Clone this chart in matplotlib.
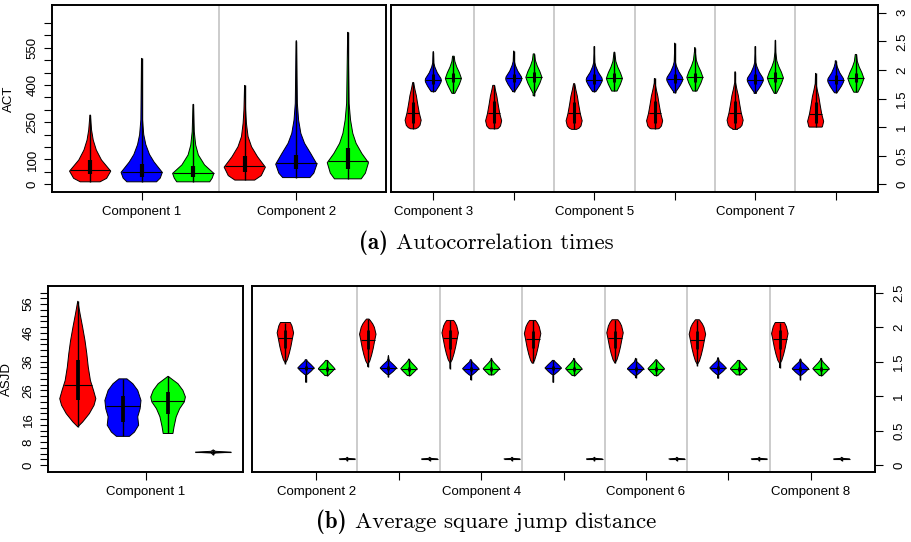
import matplotlib

matplotlib.use("Agg")
import matplotlib.pyplot as plt
import numpy as np

plt.rcParams["font.family"] = ["Liberation Sans", "DejaVu Sans"]

RED, BLUE, GREEN, DARK = "#ff0000", "#0000ff", "#00ff00", "#383838"

# ---- (a) ACT, components 1-2: outline of each violin (value, relative half width)
act12_colors = [RED, BLUE, GREEN, RED, BLUE, GREEN]
act12_ys = [
    [10, 24, 53, 98, 138, 178, 218, 279],
    [10, 25, 48, 90, 120, 160, 200, 260, 507],
    [10, 25, 44, 78, 118, 158, 212, 322],
    [17, 35, 69, 111, 151, 192, 246, 300, 398],
    [27, 45, 81, 124, 165, 205, 259, 326, 578],
    [22, 45, 87, 124, 165, 205, 259, 326, 612],
]
act12_ws = [
    [0.48, 0.80, 1.0, 0.55, 0.30, 0.15, 0.07, 0.01],
    [0.72, 0.90, 1.0, 0.60, 0.38, 0.20, 0.10, 0.04, 0.01],
    [0.80, 0.92, 1.0, 0.55, 0.25, 0.12, 0.05, 0.01],
    [0.48, 0.80, 1.0, 0.62, 0.33, 0.16, 0.08, 0.04, 0.01],
    [0.66, 0.85, 1.0, 0.70, 0.40, 0.22, 0.11, 0.05, 0.01],
    [0.65, 0.85, 1.0, 0.68, 0.40, 0.24, 0.13, 0.06, 0.01],
]
act12_q1 = [42, 30, 28, 48, 60, 63]
act12_med = [57, 51, 44, 75, 84, 92]
act12_q3 = [98, 83, 75, 115, 118, 147]
act12_labels = ["Component 1", "Component 2"]

# ---- (a) ACT, components 3-8: summary per violin, shape from a template
act_rest_labels = ["Component 3", "", "Component 5", "", "Component 7", ""]
act_red_min = [0.97, 0.97, 0.96, 0.97, 0.96, 1.00]
act_red_q1 = [1.08, 1.08, 1.08, 1.08, 1.08, 1.08]
act_red_med = [1.25, 1.24, 1.24, 1.24, 1.25, 1.23]
act_red_q3 = [1.44, 1.46, 1.44, 1.46, 1.45, 1.44]
act_red_max = [1.78, 1.73, 1.76, 1.85, 1.97, 1.94]
act_blue_min = [1.62, 1.62, 1.62, 1.60, 1.59, 1.60]
act_blue_q1 = [1.75, 1.78, 1.76, 1.77, 1.76, 1.76]
act_blue_med = [1.82, 1.85, 1.83, 1.84, 1.83, 1.82]
act_blue_q3 = [1.92, 1.93, 1.93, 1.93, 1.92, 1.91]
act_blue_max = [2.32, 2.33, 2.41, 2.47, 2.41, 2.16]
act_green_min = [1.59, 1.55, 1.63, 1.63, 1.59, 1.61]
act_green_q1 = [1.78, 1.78, 1.78, 1.79, 1.78, 1.78]
act_green_med = [1.85, 1.87, 1.85, 1.87, 1.86, 1.85]
act_green_q3 = [1.94, 1.96, 1.94, 1.95, 1.96, 1.94]
act_green_max = [2.24, 2.28, 2.31, 2.39, 2.52, 2.27]

# shape templates: offset from median, relative half width
act_red_off = [-0.28, -0.26, -0.22, -0.13, -0.05, 0.0, 0.15, 0.30, 0.41, 0.53, 0.75]
act_red_w = [0.30, 0.60, 0.85, 1.0, 0.85, 0.76, 0.57, 0.40, 0.22, 0.05, 0.0]
act_blue_off = [-0.22, -0.17, -0.10, -0.03, 0.0, 0.03, 0.13, 0.23, 0.30, 0.50, 0.70]
act_blue_w = [0.15, 0.40, 0.72, 0.97, 1.0, 0.95, 0.50, 0.20, 0.07, 0.02, 0.0]
act_green_off = [-0.28, -0.20, -0.10, 0.0, 0.10, 0.20, 0.30, 0.45, 0.70]
act_green_w = [0.10, 0.40, 0.75, 1.0, 0.75, 0.42, 0.18, 0.05, 0.0]

# ---- (b) ASJD, component 1
asjd1_colors = [RED, BLUE, GREEN, DARK]
asjd1_ys = [
    [13.3, 15, 17.9, 20.8, 23.1, 26, 29.4, 34.1, 38.7, 43.3, 47.9, 52.5, 57.1],
    [10.0, 11.5, 13.9, 16.8, 19.6, 22.5, 26.0, 28.3, 30.0],
    [11.0, 13.3, 16.8, 19.6, 22.0, 23.7, 26.0, 28.3, 30.9],
    [3.6, 4.2, 4.5, 4.8, 5.3],
]
asjd1_ws = [
    [0.0, 0.27, 0.64, 0.90, 1.0, 0.87, 0.70, 0.58, 0.50, 0.40, 0.27, 0.13, 0.0],
    [0.36, 0.64, 0.87, 0.82, 0.95, 1.0, 0.82, 0.55, 0.22],
    [0.27, 0.33, 0.45, 0.64, 0.90, 0.96, 0.82, 0.55, 0.0],
    [0.0, 0.12, 1.0, 0.12, 0.0],
]
asjd1_q1 = [22.5, 15.0, 17.7, 4.45]
asjd1_med = [27.9, 20.4, 22.2, 4.5]
asjd1_q3 = [36.4, 23.9, 25.6, 4.55]

# ---- (b) ASJD, components 2-8
asjd_rest_labels = ["Component 2", "", "Component 4", "", "Component 6", "", "Component 8"]
asjd_red_min = [1.47, 1.43, 1.40, 1.48, 1.48, 1.44, 1.41]
asjd_red_q1 = [1.70, 1.68, 1.69, 1.70, 1.70, 1.68, 1.68]
asjd_red_med = [1.84, 1.82, 1.84, 1.83, 1.84, 1.82, 1.83]
asjd_red_q3 = [1.96, 1.96, 1.96, 1.95, 1.95, 1.95, 1.96]
asjd_red_max = [2.07, 2.12, 2.10, 2.10, 2.11, 2.11, 2.07]
asjd_blue_min = [1.20, 1.28, 1.24, 1.20, 1.27, 1.26, 1.24]
asjd_blue_q1 = [1.38, 1.38, 1.37, 1.38, 1.37, 1.38, 1.37]
asjd_blue_med = [1.41, 1.41, 1.40, 1.41, 1.40, 1.41, 1.40]
asjd_blue_q3 = [1.44, 1.44, 1.43, 1.44, 1.43, 1.44, 1.43]
asjd_blue_max = [1.53, 1.59, 1.53, 1.52, 1.55, 1.56, 1.54]
asjd_green_min = [1.30, 1.30, 1.31, 1.30, 1.30, 1.31, 1.30]
asjd_green_q1 = [1.37, 1.37, 1.37, 1.37, 1.37, 1.37, 1.37]
asjd_green_med = [1.40, 1.40, 1.40, 1.40, 1.40, 1.40, 1.40]
asjd_green_q3 = [1.43, 1.43, 1.43, 1.43, 1.43, 1.43, 1.43]
asjd_green_max = [1.52, 1.54, 1.55, 1.55, 1.53, 1.52, 1.55]
asjd_dark_med = [0.09, 0.09, 0.09, 0.09, 0.09, 0.09, 0.09]

asjd_red_off = [-0.36, -0.31, -0.22, -0.12, 0.0, 0.08, 0.18, 0.23, 0.28, 0.32]
asjd_red_w = [0.0, 0.24, 0.47, 0.67, 0.86, 1.0, 0.80, 0.60, 0.30, 0.0]
asjd_blue_off = [-0.25, -0.10, -0.09, -0.05, 0.0, 0.05, 0.10, 0.14, 0.20]
asjd_blue_w = [0.0, 0.03, 0.20, 0.60, 1.0, 0.60, 0.15, 0.03, 0.0]
asjd_green_off = [-0.12, -0.08, -0.04, 0.0, 0.04, 0.09, 0.13, 0.16]
asjd_green_w = [0.05, 0.35, 0.70, 1.0, 0.70, 0.30, 0.05, 0.0]
asjd_dark_off = [-0.025, -0.008, 0.0, 0.008, 0.025]
asjd_dark_w = [0.0, 0.12, 1.0, 0.12, 0.0]

captions = [("(a)", "Autocorrelation times"), ("(b)", "Average square jump distance")]


def template_profile(offsets, widths, vmin, med, vmax):
    ys = med + np.asarray(offsets, float)
    inside = (ys > vmin) & (ys < vmax)
    y_all = np.concatenate([[vmin], ys[inside], [vmax]])
    w_all = np.interp(y_all, ys, widths)
    return y_all, w_all


def draw_violin(ax, x, ys, ws, q1, med, q3, color, box_lw):
    ys = np.asarray(ys, float)
    ws = np.asarray(ws, float) * 0.4
    xs = np.concatenate([x - ws, (x + ws)[::-1]])
    yy = np.concatenate([ys, ys[::-1]])
    ax.fill(xs, yy, facecolor=color, edgecolor="black", lw=0.7, zorder=2)
    ax.vlines(x, ys[0], ys[-1], color="black", lw=1.0, zorder=3)
    ax.vlines(x, q1, q3, color="black", lw=box_lw, zorder=4)
    wm = np.interp(med, ys, ws)
    ax.hlines(med, x - wm, x + wm, color="black", lw=0.8, zorder=4)


def style_axes(ax, right=False):
    for sp in ax.spines.values():
        sp.set_linewidth(1.4)
    ax.tick_params(length=6, width=0.8, labelsize=9.5, pad=3.5)
    ax.tick_params(axis="x", pad=4.0)
    if right:
        ax.yaxis.tick_right()
        ax.tick_params(axis="y", pad=7)
    ax.tick_params(axis="y", labelrotation=90)
    for lbl in ax.get_yticklabels():
        lbl.set_verticalalignment("center")


def fmt(v):
    return f"{v:g}"


fig = plt.figure(figsize=(9.11, 5.42), dpi=100)
W, H = 911, 542


def add_axes(x0, y0, x1, y1):
    return fig.add_axes([x0 / W, 1 - y1 / H, (x1 - x0) / W, (y1 - y0) / H])


# ---------- (a) left
ax = add_axes(52, 5, 386, 192)
for i in range(6):
    draw_violin(ax, i + 1, act12_ys[i], act12_ws[i], act12_q1[i], act12_med[i],
                act12_q3[i], act12_colors[i], box_lw=3.0)
ax.axvline(3.5, color="#c8c8c8", lw=1.3, zorder=1)
ax.set_xlim(0.26, 6.74)
ax.set_ylim(-31, 722)
ax.set_xticks([2, 5], act12_labels)
yt = np.arange(0, 651, 50)
ax.set_yticks(yt, [fmt(v) if v in (0, 100, 250, 400, 550) else "" for v in yt])
ax.set_ylabel("ACT", fontsize=9.5)
ax.yaxis.set_label_coords(-0.11, 0.5)
style_axes(ax)

# ---------- (a) right
ax = add_axes(391, 5, 878, 192)
for g in range(6):
    groups = [
        (RED, act_red_off, act_red_w, act_red_min, act_red_q1, act_red_med, act_red_q3, act_red_max),
        (BLUE, act_blue_off, act_blue_w, act_blue_min, act_blue_q1, act_blue_med, act_blue_q3, act_blue_max),
        (GREEN, act_green_off, act_green_w, act_green_min, act_green_q1, act_green_med, act_green_q3, act_green_max),
    ]
    for k, (col, off, w, vmin, q1, med, q3, vmax) in enumerate(groups):
        ys, ws = template_profile(off, w, vmin[g], med[g], vmax[g])
        draw_violin(ax, 4 * g + k + 1, ys, ws, q1[g], med[g], q3[g], col, box_lw=2.2)
    if g > 0:
        ax.axvline(4 * g, color="#c8c8c8", lw=1.3, zorder=1)
ax.set_xlim(-0.1, 24.1)
ax.set_ylim(-0.135, 3.135)
ax.set_xticks([4 * g + 2 for g in range(6)], act_rest_labels)
yt = np.arange(0, 3.01, 0.5)
ax.set_yticks(yt, [fmt(v) for v in yt])
style_axes(ax, right=True)

# ---------- (b) left
ax = add_axes(48, 286, 243, 472)
for i in range(4):
    draw_violin(ax, i + 1, asjd1_ys[i], asjd1_ws[i], asjd1_q1[i], asjd1_med[i],
                asjd1_q3[i], asjd1_colors[i], box_lw=2.7)
ax.set_xlim(0.34, 4.66)
ax.set_ylim(-2.4, 62.3)
ax.set_xticks([2.5], ["Component 1"])
yt = np.arange(0, 61, 2)
ax.set_yticks(yt, [fmt(v) if v in (0, 8, 16, 26, 36, 46, 56) else "" for v in yt])
ax.set_ylabel("ASJD", fontsize=9.5)
ax.yaxis.set_label_coords(-0.18, 0.5)
style_axes(ax)

# ---------- (b) right
ax = add_axes(252, 286, 875, 472)
for g in range(7):
    groups = [
        (RED, asjd_red_off, asjd_red_w, asjd_red_min, asjd_red_q1, asjd_red_med, asjd_red_q3, asjd_red_max),
        (BLUE, asjd_blue_off, asjd_blue_w, asjd_blue_min, asjd_blue_q1, asjd_blue_med, asjd_blue_q3, asjd_blue_max),
        (GREEN, asjd_green_off, asjd_green_w, asjd_green_min, asjd_green_q1, asjd_green_med, asjd_green_q3, asjd_green_max),
    ]
    for k, (col, off, w, vmin, q1, med, q3, vmax) in enumerate(groups):
        ys, ws = template_profile(off, w, vmin[g], med[g], vmax[g])
        draw_violin(ax, 4 * g + k + 1, ys, ws, q1[g], med[g], q3[g], col, box_lw=2.0)
    m = asjd_dark_med[g]
    ys, ws = template_profile(asjd_dark_off, asjd_dark_w, m - 0.025, m, m + 0.025)
    draw_violin(ax, 4 * g + 4, ys, ws, m - 0.003, m, m + 0.003, DARK, box_lw=1.0)
    if g < 6:
        ax.axvline(4 * g + 4.5, color="#c8c8c8", lw=1.3, zorder=1)
ax.set_xlim(-0.62, 29.62)
ax.set_ylim(-0.1, 2.6)
ax.set_xticks([4 * g + 2.5 for g in range(7)], asjd_rest_labels)
yt = np.arange(0, 2.51, 0.5)
ax.set_yticks(yt, [fmt(v) for v in yt])
style_axes(ax, right=True)

# captions, LaTeX style, each centred under the figure
renderer = fig.canvas.get_renderer()
for (tag, caption), y in zip(captions, [243, 522]):
    t1 = fig.text(0, 1 - y / H, tag, ha="left", va="center", fontsize=16.5, family="cmb10")
    t2 = fig.text(0, 1 - y / H, caption, ha="left", va="center", fontsize=16.5, family="cmr10")
    w1 = t1.get_window_extent(renderer).width
    w2 = t2.get_window_extent(renderer).width
    gap = 8
    x0 = 486 - (w1 + gap + w2) / 2
    t1.set_x(x0 / W)
    t2.set_x((x0 + w1 + gap) / W)

fig.savefig("out.png", dpi=100)
